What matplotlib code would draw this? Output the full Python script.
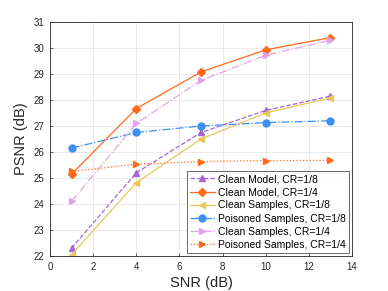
import matplotlib
matplotlib.use("Agg")
import matplotlib.pyplot as plt

plt.rcParams['font.family'] = ['Liberation Sans', 'DejaVu Sans']

snr = [1, 4, 7, 10, 13]
clean_model_8 = [22.3, 25.2, 26.75, 27.6, 28.15]
clean_model_4 = [25.15, 27.67, 29.08, 29.93, 30.4]
clean_samples_8 = [22.05, 24.82, 26.5, 27.5, 28.08]
poisoned_8 = [26.15, 26.75, 27.0, 27.13, 27.2]
clean_samples_4 = [24.1, 27.1, 28.75, 29.72, 30.3]
poisoned_4 = [25.25, 25.53, 25.63, 25.67, 25.68]

fig = plt.figure(figsize=(3.88, 2.91), dpi=100)
ax = fig.add_axes([50/388, 1 - 256/291, 302/388, 234/291])

ms = 5
ax.plot(snr, clean_model_8, '--', color='#a566d6', marker='^', ms=ms, lw=0.9, label='Clean Model, CR=1/8')
ax.plot(snr, clean_model_4, '-', color='#ff6a1a', marker='D', ms=4, lw=0.9, label='Clean Model, CR=1/4')
ax.plot(snr, clean_samples_8, '-', color='#e6c95c', marker='<', ms=ms, lw=0.9, label='Clean Samples, CR=1/8')
ax.plot(snr, poisoned_8, '-.', color='#3d8ef5', marker='o', ms=ms, lw=0.9, label='Poisoned Samples, CR=1/8')
ax.plot(snr, clean_samples_4, '-.', color='#e3a3e8', marker='>', ms=ms, lw=0.9, label='Clean Samples, CR=1/4')
ax.plot(snr, poisoned_4, ':', color='#ff6a1a', marker='>', ms=ms, lw=0.9, label='Poisoned Samples, CR=1/4')

ax.set_xlim(0, 14)
ax.set_ylim(22, 31)
ax.set_xticks(range(0, 15, 2))
ax.set_yticks(range(22, 32))
ax.grid(True, color='#e6e6e6', lw=0.6)
ax.set_axisbelow(True)
ax.tick_params(labelsize=7, direction='in', length=2, width=0.5, colors='#262626', pad=4)
for s in ax.spines.values():
    s.set_linewidth(0.6)
    s.set_color('#262626')
ax.set_xlabel('SNR (dB)', fontsize=10.5, color='#262626', labelpad=3)
ax.set_ylabel('PSNR (dB)', fontsize=10.5, color='#262626', labelpad=4)

leg = ax.legend(loc='lower right', fontsize=7.5, frameon=True, fancybox=False,
                edgecolor='#262626', borderpad=0.3, labelspacing=0.3,
                handlelength=2.4, handletextpad=0.3, borderaxespad=0.3)
leg.get_frame().set_linewidth(0.6)

fig.savefig('out.png', dpi=100)
